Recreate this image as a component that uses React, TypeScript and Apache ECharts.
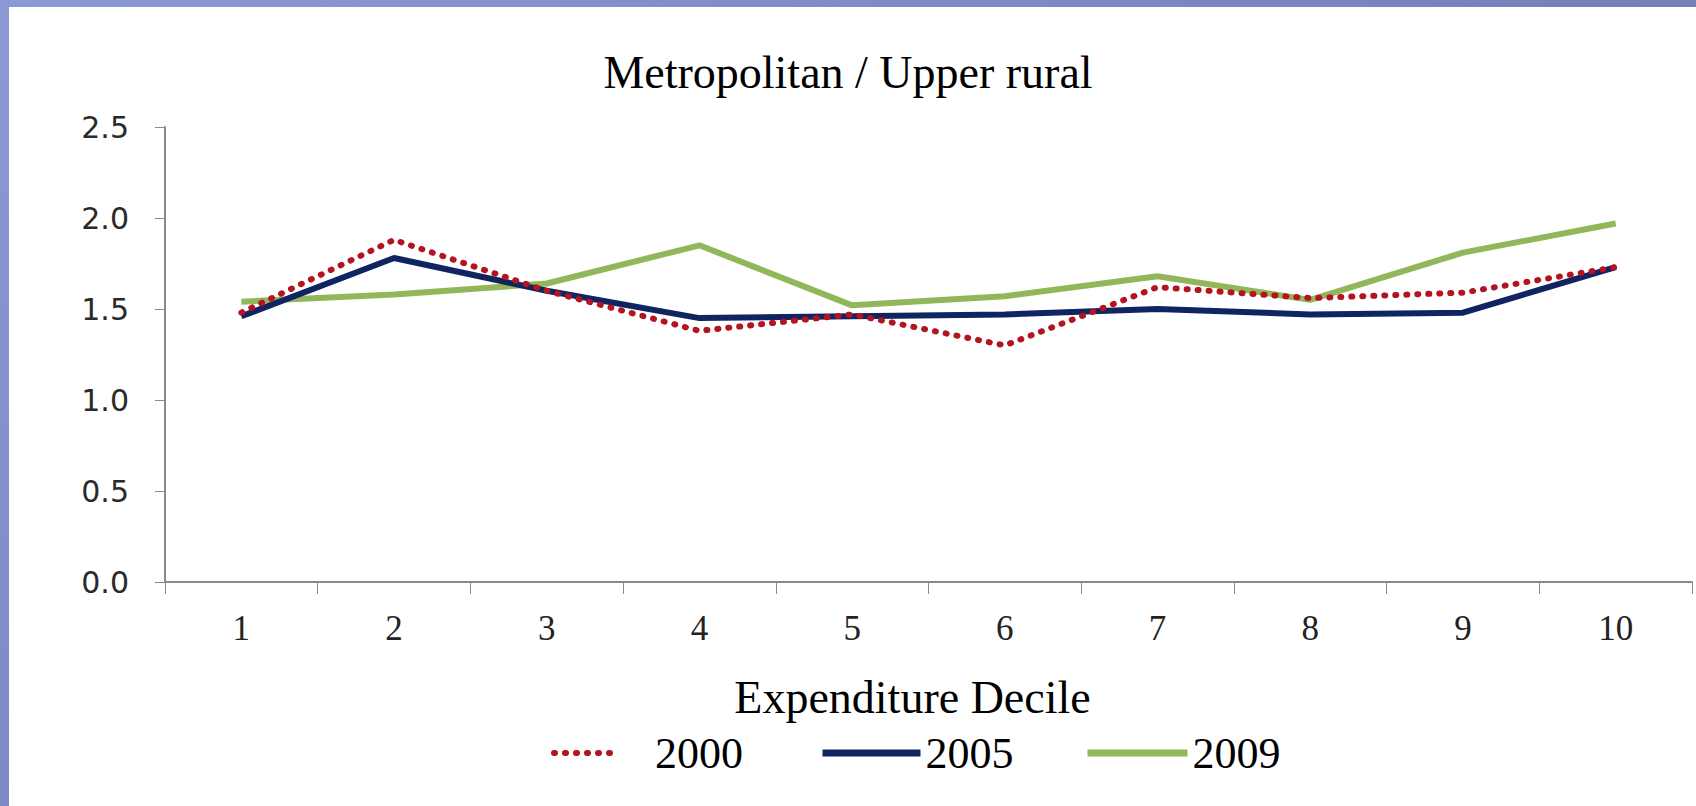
import React, { useEffect, useRef } from "react";
import * as echarts from "echarts";

const categories = ["1", "2", "3", "4", "5", "6", "7", "8", "9", "10"];
const series2000 = [1.48, 1.88, 1.6, 1.38, 1.47, 1.3, 1.62, 1.56, 1.59, 1.73];
const series2005 = [1.46, 1.78, 1.6, 1.45, 1.46, 1.47, 1.5, 1.47, 1.48, 1.73];
const series2009 = [1.54, 1.58, 1.64, 1.85, 1.52, 1.57, 1.68, 1.55, 1.81, 1.97];
const yTicks = [0, 0.5, 1.0, 1.5, 2.0, 2.5];

const SERIF = "'Liberation Serif', 'Times New Roman', serif";
const RED = "#b3141f";
const NAVY = "#0f2460";
const GREEN = "#92b65a";
const DOTS = [1, 10];

export default function App() {
  const ref = useRef<HTMLDivElement>(null);
  useEffect(() => {
    document.body.style.margin = "0";
    const chart = echarts.init(ref.current!, undefined, { renderer: "svg" });
    const legendBase = {
      top: 726,
      itemHeight: 14,
      itemStyle: { opacity: 0 },
      textStyle: { fontFamily: SERIF, fontSize: 44, color: "#000" },
    };
    chart.setOption({
      animation: false,
      backgroundColor: "#ffffff",
      title: {
        text: "Metropolitan / Upper rural",
        left: "center",
        top: 44,
        textStyle: { fontFamily: SERIF, fontSize: 46, fontWeight: "normal", color: "#000" },
      },
      graphic: [
        {
          type: "rect",
          shape: { x: 0, y: 0, width: 1696, height: 7 },
          style: {
            fill: new echarts.graphic.LinearGradient(0, 0, 1, 0, [
              { offset: 0, color: "#8a9ad6" },
              { offset: 1, color: "#7480b6" },
            ]),
          },
        },
        {
          type: "rect",
          shape: { x: 0, y: 0, width: 9, height: 806 },
          style: {
            fill: new echarts.graphic.LinearGradient(0, 0, 0, 1, [
              { offset: 0, color: "#8a9ad6" },
              { offset: 1, color: "#7b8bc4" },
            ]),
          },
        },
      ],
      legend: [
        {
          ...legendBase,
          data: ["2000"],
          left: 546,
          itemWidth: 60,
          lineStyle: { color: RED, width: 6, type: DOTS, cap: "round" },
          textStyle: { ...legendBase.textStyle, padding: [0, 0, 0, 36] },
        },
        {
          ...legendBase,
          data: ["2005"],
          left: 814,
          itemWidth: 98,
          lineStyle: { color: NAVY, width: 7 },
        },
        {
          ...legendBase,
          data: ["2009"],
          left: 1079,
          itemWidth: 100,
          lineStyle: { color: GREEN, width: 7 },
        },
      ],
      grid: { left: 165, right: 4, top: 127, bottom: 224, containLabel: false },
      xAxis: {
        type: "category",
        data: categories,
        boundaryGap: true,
        name: "Expenditure Decile",
        nameLocation: "middle",
        nameGap: 92,
        nameTextStyle: { fontFamily: SERIF, fontSize: 46, color: "#000", padding: [0, 32, 0, 0] },
        axisLine: { lineStyle: { color: "#8a8a8a", width: 2 } },
        axisTick: { show: true, length: 12, lineStyle: { color: "#8a8a8a", width: 1 } },
        axisLabel: { fontFamily: SERIF, fontSize: 35, color: "#222", margin: 29 },
        splitLine: { show: false },
      },
      yAxis: {
        type: "value",
        min: yTicks[0],
        max: yTicks[yTicks.length - 1],
        interval: 0.5,
        axisLine: { show: true, lineStyle: { color: "#8a8a8a", width: 2 } },
        axisTick: { show: true, length: 10, lineStyle: { color: "#8a8a8a", width: 1 } },
        axisLabel: {
          fontFamily: "'DejaVu Sans', sans-serif",
          fontSize: 30,
          color: "#2a2a2a",
          margin: 36,
          formatter: (v: number) => v.toFixed(1),
        },
        splitLine: { show: false },
      },
      series: [
        {
          name: "2000",
          type: "line",
          data: series2000,
          symbol: "none",
          lineStyle: { color: RED, width: 6, type: DOTS, cap: "round" },
          itemStyle: { color: RED },
          z: 3,
        },
        {
          name: "2005",
          type: "line",
          data: series2005,
          symbol: "none",
          lineStyle: { color: NAVY, width: 6 },
          itemStyle: { color: NAVY },
          z: 2,
        },
        {
          name: "2009",
          type: "line",
          data: series2009,
          symbol: "none",
          lineStyle: { color: GREEN, width: 6 },
          itemStyle: { color: GREEN },
          z: 1,
        },
      ],
    });
    return () => chart.dispose();
  }, []);
  return (
    <div
      ref={ref}
      style={{ position: "absolute", left: 0, top: 0, width: 1696, height: 806 }}
    />
  );
}
